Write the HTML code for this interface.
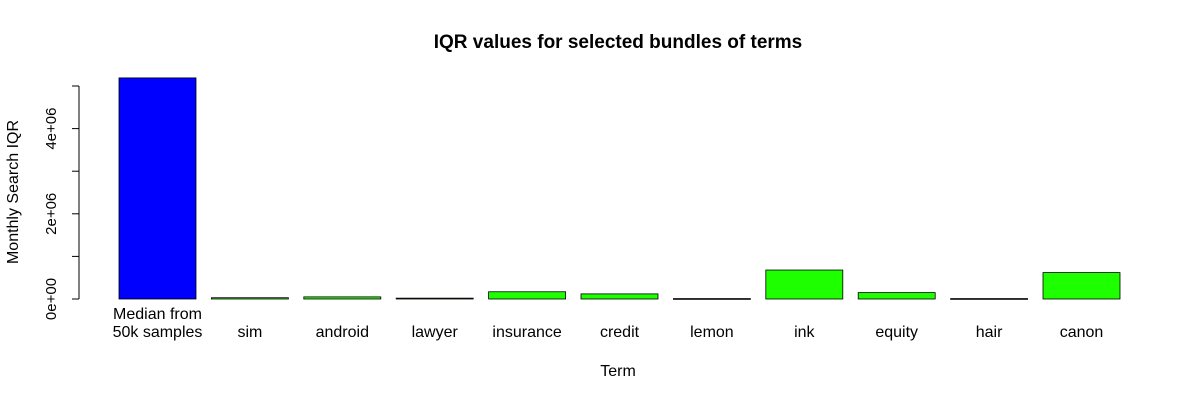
<!DOCTYPE html>
<html><head><meta charset="utf-8"><style>
body{margin:0;background:#fff;}
svg text{font-family:"Liberation Sans",Arial,sans-serif;}
</style></head><body>
<svg id="chart" width="1200" height="400" xmlns="http://www.w3.org/2000/svg">
<text x="618" y="48" text-anchor="middle" font-size="19" font-weight="bold">IQR values for selected bundles of terms</text>
<text x="618" y="376" text-anchor="middle" font-size="16">Term</text>
<text transform="translate(18,192) rotate(-90)" text-anchor="middle" font-size="16">Monthly Search IQR</text>
<g id="yaxis"></g>
<g id="bars"></g>
<g id="xlabels"></g>
</svg>
<script>
const categories=["Median from|50k samples","sim","android","lawyer","insurance","credit","lemon","ink","equity","hair","canon"];
const values=[5.19e6,0.03e6,0.05e6,0.02e6,0.17e6,0.12e6,0.01e6,0.68e6,0.15e6,0.01e6,0.62e6];
const yTicks=[0,2e6,4e6];
const yTickLabels=["0e+00","2e+06","4e+06"];
const yMinorTicks=[0,1e6,2e6,3e6,4e6,5e6];
const NS="http://www.w3.org/2000/svg";
const y0=299, pxPer=42.6/1e6;
function y(v){return y0-v*pxPer;}
function xLeft(i){return 119+i*92.4;}
const bw=77;
function mk(tag,attrs,parent){const e=document.createElementNS(NS,tag);for(const k in attrs)e.setAttribute(k,attrs[k]);parent.appendChild(e);return e;}
const ya=document.getElementById('yaxis');
const axLine=mk('line',{x1:79,x2:79,y1:y(5e6),y2:y(0),stroke:'#000'},ya);


yMinorTicks.forEach(v=>{const t=mk('line',{x1:72,x2:79,y1:y(v),y2:y(v),stroke:'#000'},ya);

});
yTicks.forEach((v,i)=>{const t=mk('text',{transform:`translate(56,${y(v)}) rotate(-90)`,'text-anchor':'middle','font-size':15},ya);t.textContent=yTickLabels[i];

});
const bg=document.getElementById('bars'),xl=document.getElementById('xlabels');
values.forEach((v,i)=>{
 const r=mk('rect',{x:xLeft(i),y:y(v),width:bw,height:Math.max(0.8,y(0)-y(v)),fill:i===0?'#0000ff':'#1eff00',stroke:'#000','stroke-width':0.8},bg);
 
 
 const lines=categories[i].split('|');
 lines.forEach((s,j)=>{const t=mk('text',{x:xLeft(i)+bw/2,y:337-(lines.length-1-j)*18,'text-anchor':'middle','font-size':16},xl);t.textContent=s;
 
 });
});
</script>
</body></html>
